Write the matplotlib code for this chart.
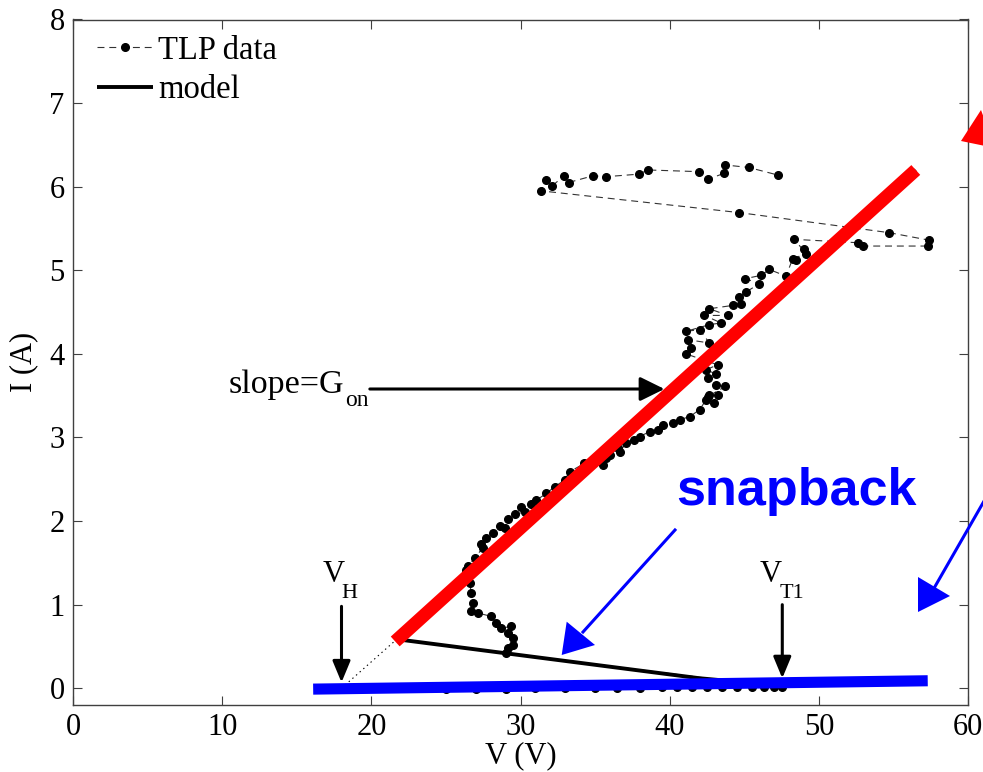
import matplotlib
matplotlib.use("Agg")
import matplotlib.pyplot as plt
from matplotlib.patches import Polygon
from matplotlib.lines import Line2D

plt.rcParams['font.family'] = ['Liberation Serif', 'DejaVu Serif']
plt.rcParams['lines.scale_dashes'] = False

# ---------------- data ----------------
# TLP measurement (voltage V, current A), in measurement order
tlp_v = [25.0, 27.0, 29.0, 31.0, 33.0, 35.0, 36.5, 38.0, 39.5, 40.5, 41.5, 42.5,
         43.5, 44.5, 45.5, 46.3, 47.0, 47.5,
         29.05, 29.16, 29.49, 29.49, 29.16, 29.38, 28.71, 28.37, 28.04, 27.15,
         26.70, 26.81, 26.70, 26.59, 26.36, 26.48, 26.93, 27.48, 27.37, 27.71,
         28.15, 28.60, 28.94, 29.16, 29.60, 30.27, 30.05, 30.72, 31.06, 31.73,
         32.28, 32.95, 33.29, 34.29, 35.52, 35.74, 35.97, 36.52, 36.64, 37.08,
         37.64, 37.98, 38.65, 39.21, 39.54, 40.21, 40.66, 41.33, 42.00, 42.44,
         43.00, 42.67, 43.22, 42.55, 43.74, 43.11, 42.55, 43.11, 42.44, 43.22,
         42.22, 41.10, 41.44, 41.21, 42.67, 42.00, 41.10, 42.67, 43.45, 42.33,
         43.89, 42.67, 44.23, 44.79, 44.67, 45.12, 46.01, 45.08, 46.13, 46.68,
         47.80, 48.25, 48.47, 49.03, 49.14, 48.36, 52.60, 52.94, 57.29, 57.40,
         54.72, 44.67, 31.39, 31.68, 32.13, 32.91, 33.22, 34.85, 35.75, 37.93,
         38.56, 41.95, 42.58, 43.65, 43.72, 45.30, 47.24]
tlp_i = [-0.01, -0.01, -0.01, 0.00, 0.00, 0.00, 0.00, 0.00, 0.01, 0.01, 0.01, 0.01,
         0.01, 0.01, 0.01, 0.01, 0.01, 0.01,
         0.42, 0.48, 0.52, 0.60, 0.66, 0.74, 0.72, 0.78, 0.86, 0.90,
         0.92, 1.02, 1.14, 1.26, 1.42, 1.46, 1.56, 1.68, 1.72, 1.80,
         1.86, 1.94, 1.92, 2.02, 2.08, 2.11, 2.17, 2.21, 2.25, 2.33,
         2.41, 2.49, 2.59, 2.69, 2.67, 2.75, 2.79, 2.87, 2.83, 2.93,
         2.97, 3.01, 3.07, 3.09, 3.15, 3.17, 3.21, 3.25, 3.33, 3.45,
         3.41, 3.51, 3.51, 3.49, 3.61, 3.63, 3.71, 3.76, 3.81, 3.87,
         3.93, 4.00, 4.07, 4.17, 4.13, 4.29, 4.27, 4.35, 4.37, 4.46,
         4.46, 4.54, 4.58, 4.60, 4.68, 4.74, 4.84, 4.90, 4.94, 5.01,
         4.93, 5.14, 5.12, 5.25, 5.20, 5.37, 5.33, 5.29, 5.29, 5.36,
         5.45, 5.69, 5.95, 6.08, 6.01, 6.13, 6.05, 6.13, 6.12, 6.15,
         6.20, 6.18, 6.09, 6.16, 6.26, 6.23, 6.14]

# model (V, I)
model_v = [47.5, 42.0, 22.0, 56.5]
model_i = [0.03, 0.12, 0.58, 6.20]
# model extension down to holding voltage
ext_v = [18.0, 21.6]
ext_i = [0.0, 0.57]
# highlighted on-state line (red) and off-state line (blue)
on_v = [21.6, 56.5]
on_i = [0.56, 6.20]
off_v = [16.1, 57.3]
off_i = [-0.01, 0.09]

VH = 18.0
VT1 = 47.55

x_ticks = [0, 10, 20, 30, 40, 50, 60]
y_ticks = [0, 1, 2, 3, 4, 5, 6, 7, 8]

# ---------------- figure ----------------
W, H = 983, 772
fig = plt.figure(figsize=(W / 100, H / 100), dpi=100)
ax = fig.add_axes([73 / W, 1 - 705 / H, (968 - 73) / W, (705 - 19.5) / H])


def P(x, y):
    """image pixel (from top-left) -> figure fraction"""
    return (x / W, 1 - y / H)


ax.plot(tlp_v, tlp_i, color='0.2', lw=0.8, dashes=(5, 3.5), marker='o',
        markersize=5.5, markerfacecolor='k', markeredgecolor='k', zorder=3,
        label='TLP data')
ax.plot(model_v, model_i, color='k', lw=2.8, zorder=4, label='model',
        solid_capstyle='butt')
ax.plot(ext_v, ext_i, color='k', lw=0.8, ls=(0, (1, 2.5)), zorder=4)

ax.plot(on_v, on_i, color='#ff0000', lw=9.5, solid_capstyle='butt', zorder=6)
ax.plot(off_v, off_i, color='#0000ff', lw=8.0, solid_capstyle='butt', zorder=7)

ax.set_xlim(0, 60)
ax.set_ylim(-0.2, 8)
ax.set_xticks(x_ticks)
ax.set_yticks(y_ticks)
ax.tick_params(direction='in', length=6.5, width=0.8, top=True, right=True,
               labelsize=22, pad=6, colors='#404040', labelcolor='k')
for s in ax.spines.values():
    s.set_color('#404040')
    s.set_linewidth(1.0)
ax.set_xlabel('V (V)', fontsize=22, labelpad=-1)
ax.set_ylabel('I (A)', fontsize=22, labelpad=8)

leg = ax.legend(loc='upper left', bbox_to_anchor=(0.0268, 0.977), frameon=False,
                fontsize=23.5, handlelength=1.72, handletextpad=0.15,
                labelspacing=0.28, borderpad=0.0, borderaxespad=0.0,
                numpoints=1)

# annotations: V_H
arrow_k = dict(arrowstyle='-|>,head_length=0.65,head_width=0.27', lw=2.2,
               color='k', shrinkA=0, shrinkB=0, mutation_scale=20)
ax.annotate('', xy=(VH, 0.07), xytext=(VH, 0.98), arrowprops=arrow_k, zorder=5)
ax.text(VH - 0.55, 1.27, 'V', fontsize=22, ha='center', va='baseline')
ax.text(VH, 1.08, 'H', fontsize=16, ha='left', va='baseline')

# V_T1
ax.annotate('', xy=(VT1, 0.12), xytext=(VT1, 1.0), arrowprops=arrow_k, zorder=5)
ax.text(VT1 - 0.8, 1.27, 'V', fontsize=22, ha='center', va='baseline')
ax.text(VT1 - 0.2, 1.08, 'T1', fontsize=16, ha='left', va='baseline')

# slope = G_on
ax.annotate('', xy=(39.65, 3.58), xytext=(19.9, 3.58),
            arrowprops=dict(arrowstyle='-|>,head_length=0.75,head_width=0.37',
                            lw=2.2, color='k', shrinkA=0, shrinkB=0,
                            mutation_scale=20), zorder=5)
ax.text(18.2, 3.53, 'slope=G', fontsize=24.5, ha='right', va='baseline')
ax.text(18.25, 3.38, 'on', fontsize=17, ha='left', va='baseline')

# snapback label
ax.text(48.5, 2.19, 'snapback', fontsize=37.5, fontweight='bold',
        family='Liberation Sans', color='#0000ff', ha='center', va='baseline',
        zorder=8)

# blue arrow 1
fig.add_artist(Line2D([P(675, 530)[0], P(583, 632)[0]],
                      [P(675, 530)[1], P(583, 632)[1]],
                      transform=fig.transFigure, color='#0000ff', lw=2.2))
fig.add_artist(Polygon([P(561.7, 655), P(566.7, 621.7), P(595, 645)],
                       closed=True, transform=fig.transFigure,
                       facecolor='#0000ff', edgecolor='none'))
# blue arrow 2 (clipped by the figure edge)
fig.add_artist(Line2D([P(995, 482)[0], P(933, 590)[0]],
                      [P(995, 482)[1], P(933, 590)[1]],
                      transform=fig.transFigure, color='#0000ff', lw=2.2))
fig.add_artist(Polygon([P(918, 577), P(918, 612), P(950, 596)],
                       closed=True, transform=fig.transFigure,
                       facecolor='#0000ff', edgecolor='none'))
# red arrow head at the top right (clipped)
fig.add_artist(Polygon([P(961, 141), P(981, 110), P(995, 148)],
                       closed=True, transform=fig.transFigure,
                       facecolor='#ff0000', edgecolor='none'))

fig.savefig('out.png', dpi=100)
